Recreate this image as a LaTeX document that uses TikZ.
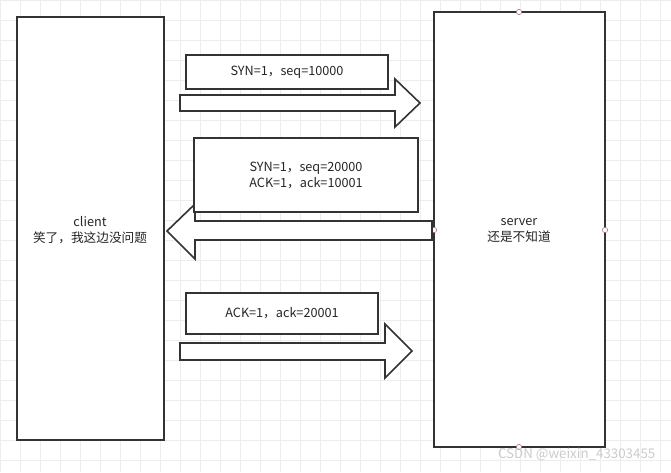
\documentclass[tikz,border=0pt]{standalone}
\usepackage{fontspec}
\setmainfont{Noto Sans CJK SC}
\begin{document}
\begin{tikzpicture}[x=0.75pt,y=-0.75pt,
  box/.style={draw=black!80,line width=1.2pt,fill=white},
  lbl/.style={font=\fontsize{9.5}{12}\selectfont,text=black!85,align=center},
  handle/.style={circle,draw=red!40!black!60,fill=white,inner sep=0pt,minimum size=4pt}]
\useasboundingbox (0,0) rectangle (671,472);
\fill[white] (0,0) rectangle (671,472);
\foreach \i in {0,20,...,660} \draw[black!7] (\i,0) -- (\i,472);
\foreach \j in {0,20,...,460} \draw[black!7] (0,\j) -- (671,\j);
% client
\draw[box] (17,17) rectangle (164,440);
\node[lbl] (client) at (90,230) {client\\笑了，我这边没问题};
% server
\draw[box] (434,12) rectangle (605,447);
\node[lbl] (server) at (519,230) {server\\还是不知道};
\node[handle] (h1) at (519,12) {};
\node[handle] (h2) at (434,230) {};
\node[handle] (h3) at (605,230) {};
\node[handle] (h4) at (519,447) {};
% arrow 1
\draw[box] (180,95) -- (395,95) -- (395,79) -- (420,103) -- (395,127) -- (395,111) -- (180,111) -- cycle;
\draw[box] (186,55) rectangle (388,89);
\node[lbl] (l1) at (287,72) {SYN=1，seq=10000};
% arrow 2
\draw[box] (432,221) -- (195,221) -- (195,204) -- (167,231) -- (195,259) -- (195,240) -- (432,240) -- cycle;
\draw[box] (194,138) rectangle (418,212);
\node[lbl] (l2) at (306,175) {SYN=1，seq=20000\\ACK=1，ack=10001};
% arrow 3
\draw[box] (180,343) -- (385,343) -- (385,324) -- (412,351) -- (385,378) -- (385,360) -- (180,360) -- cycle;
\draw[box] (186,293) rectangle (378,334);
\node[lbl] (l3) at (282,313) {ACK=1，ack=20001};
\node[font=\fontsize{10}{12}\selectfont,text=black!20,anchor=east] (wm) at (660,454) {CSDN @weixin\_43303455};
\end{tikzpicture}
\end{document}
